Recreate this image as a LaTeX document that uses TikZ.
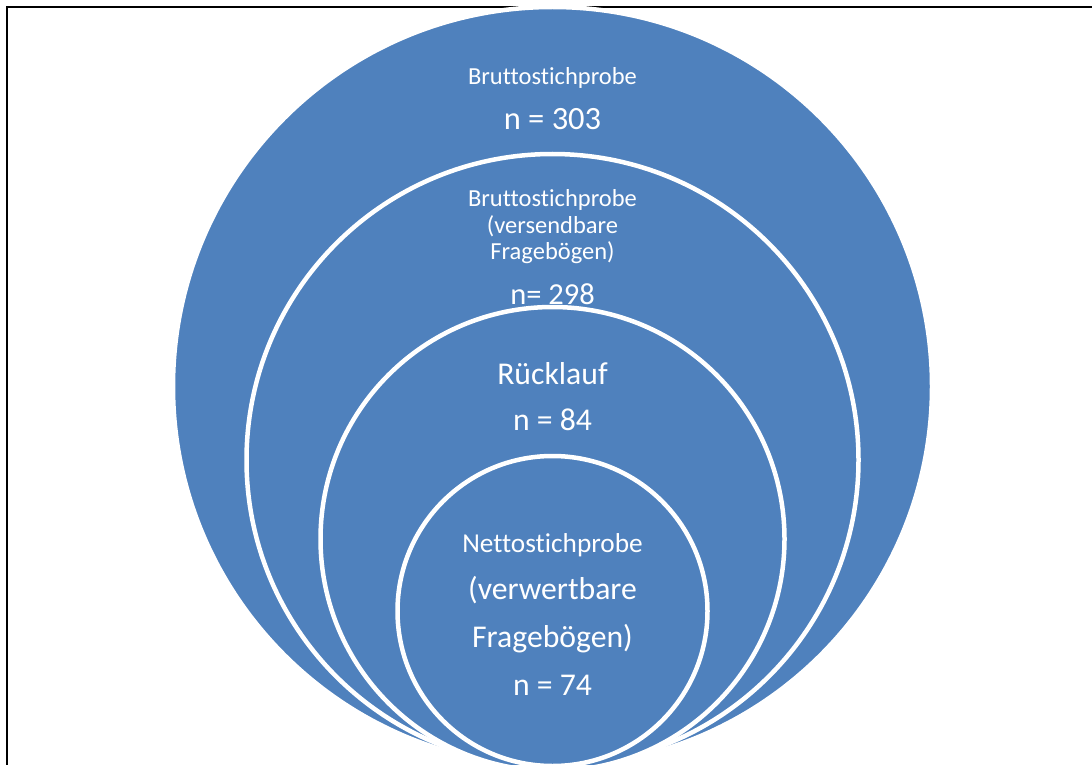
\documentclass[tikz,border=0pt]{standalone}
\usepackage{fontspec}
\setmainfont[Ligatures=NoCommon]{Carlito}
\definecolor{ringblue}{HTML}{4F81BD}
\begin{document}
\begin{tikzpicture}[x=1pt,y=-1pt,
  ring/.style={fill=ringblue,draw=white,line width=4.5pt},
  lbl/.style={text=white,inner sep=0pt,anchor=base},
  small/.style={lbl,font=\fontsize{24.5}{29}\selectfont},
  mid/.style={lbl,font=\fontsize{27.3}{32}\selectfont},
  big/.style={lbl,font=\fontsize{31.7}{38}\selectfont},
]
\useasboundingbox (0,0) rectangle (1092,765);
\begin{scope}
  \clip (0,0) rectangle (1092,765);
  % page frame, only its top and left sides fall inside
  \draw[line width=2pt] (7,7) rectangle (1120,790);
  % nested circles, all touching near the bottom edge
  \draw[ring] (552.5,386.5) circle[radius=379.5];
  \draw[ring] (552.5,460) circle[radius=306];
  \draw[ring] (552.5,539) circle[radius=232];
  \draw[ring] (552.5,611) circle[radius=155];
\end{scope}
% outer circle
\node[small] (b1) at (552.5,85) {Bruttostichprobe};
\node[big,font=\fontsize{32.5}{38}\selectfont] (n1) at (552.5,130) {n = 303};
% second circle
\node[small] (b2) at (552.5,206) {Bruttostichprobe};
\node[small] (v2) at (552.5,233) {(versendbare};
\node[small] (f2) at (552.5,259) {Fragebögen)};
\node[big,font=\fontsize{30.5}{36}\selectfont] (n2) at (552.5,304) {n= 298};
% third circle
\node[big]   (r3) at (552.5,384) {Rücklauf};
\node[big]   (n3) at (552.5,430) {n = 84};
% inner circle
\node[mid]   (t4) at (552.5,552) {Nettostichprobe};
\node[big]   (v4) at (552.5,599) {(verwertbare};
\node[big]   (f4) at (552.5,647) {Fragebögen)};
\node[big]   (n4) at (552.5,695) {n = 74};
\end{tikzpicture}
\end{document}
